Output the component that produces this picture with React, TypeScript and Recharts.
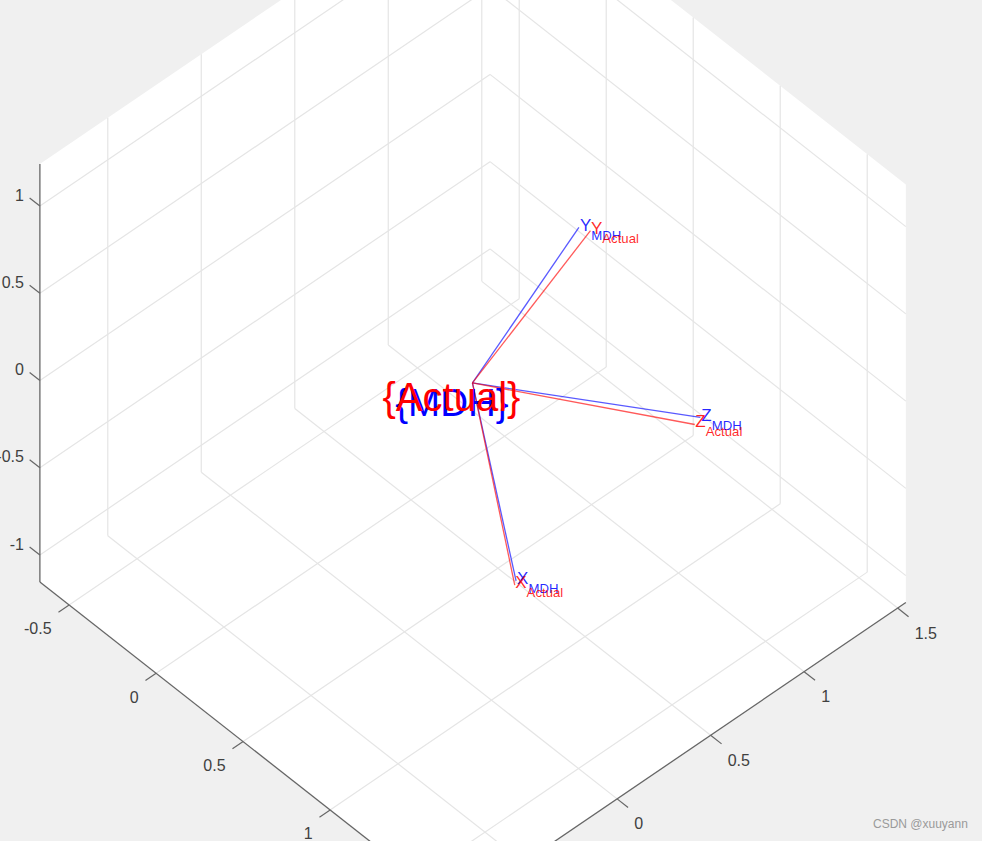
import { Scatter, ScatterChart, XAxis, YAxis } from "recharts";

type Vec3 = [number, number, number];

const WIDTH = 982;
const HEIGHT = 841;
const FONT = "'Liberation Sans', Arial, sans-serif";

// axis limits and ticks
const aLim = [-0.668, 1.722];
const bLim = [-0.863, 1.544];
const zLim = [-1.154, 1.241];
const aTicks = [-0.5, 0, 0.5, 1, 1.5];
const bTicks = [-0.5, 0, 0.5, 1, 1.5];
const zTicks = [-1, -0.5, 0, 0.5, 1];
const aTickLabels = ["-0.5", "0", "0.5", "1"];
const bTickLabels = ["0", "0.5", "1", "1.5"];
const zTickLabels = ["-1", "-0.5", "0", "0.5", "1"];

// frame origin and axis end points
const frameOrigin: Vec3 = [0.495, 0.368, 0];
const axisNames = ["X", "Y", "Z"];
const mdhEnds: Vec3[] = [
  [0.721, 0.391, -0.974],
  [0.116, 1.29, -0.077],
  [1.39, 0.754, 0.222],
];
const actualEnds: Vec3[] = [
  [0.736, 0.37, -0.971],
  [0.163, 1.308, -0.0725],
  [1.4, 0.715, 0.218],
];

// fixed view of the 3D box onto the picture (orthographic)
const project = ([a, b, z]: Vec3) => ({
  x: 317.5 + 174 * a + 187 * b,
  y: 362.1 + 136.7 * a - 127.2 * b - 174.5 * z,
});

const NoPoint = () => null;

const Seg = (from: Vec3, to: Vec3, stroke: string, key: string, width = 1, opacity = 1) => (
  <Scatter
    key={key}
    data={[project(from), project(to)]}
    line={{ stroke, strokeWidth: width, strokeOpacity: opacity }}
    shape={NoPoint}
    isAnimationActive={false}
  />
);

const Label = (
  at: Vec3,
  key: string,
  dx: number,
  dy: number,
  render: (x: number, y: number) => React.ReactElement,
) => (
  <Scatter
    key={key}
    data={[project(at)]}
    shape={(p: any) => render(p.cx + dx, p.cy + dy)}
    isAnimationActive={false}
  />
);

const tickText = (s: string, anchor: string) => (x: number, y: number) => (
  <text
    x={x}
    y={y}
    textAnchor={anchor}
    dominantBaseline="central"
    fontFamily={FONT}
    fontSize={16}
    fill="#404040"
  >
    {s}
  </text>
);

const axisLabel = (name: string, sub: string, color: string) => (x: number, y: number) => (
  <text x={x} y={y} fontFamily={FONT} fill={color} fillOpacity={0.85}>
    <tspan fontSize={17}>{name}</tspan>
    <tspan fontSize={13.2} dy={9}>
      {sub}
    </tspan>
  </text>
);

const frameText = (s: string, color: string, size: number) => (x: number, y: number) => (
  <text x={x} y={y} textAnchor="middle" fontFamily={FONT} fontSize={size} fill={color}>
    {s}
  </text>
);

export default function App() {
  const [a0, a1] = aLim;
  const [b0, b1] = bLim;
  const [z0, z1] = zLim;
  const grid = "#e5e5e5";
  const axis = "#666666";

  const wall = [
    [a0, b0, z0],
    [a0, b0, z1],
    [a0, b1, z1],
    [a1, b1, z1],
    [a1, b1, z0],
    [a1, b0, z0],
  ].map((p) => project(p as Vec3));

  return (
    <div
      style={{
        position: "absolute",
        left: 0,
        top: 0,
        width: WIDTH,
        height: HEIGHT,
        background: "#f0f0f0",
        overflow: "hidden",
      }}
    >
      <ScatterChart width={WIDTH} height={HEIGHT} margin={{ top: 0, right: 0, bottom: 0, left: 0 }}>
        <XAxis type="number" dataKey="x" domain={[0, WIDTH]} allowDataOverflow hide />
        <YAxis type="number" dataKey="y" domain={[0, HEIGHT]} allowDataOverflow reversed hide />

        {/* white box outline */}
        <Scatter
          data={wall}
          shape={NoPoint}
          isAnimationActive={false}
          line={(props: any) => (
            <polygon
              points={props.points.map((p: any) => `${p.x ?? p.cx},${p.y ?? p.cy}`).join(" ")}
              fill="#ffffff"
              stroke="none"
            />
          )}
        />

        {/* grid */}
        {aTicks.map((a) => Seg([a, b0, z0], [a, b1, z0], grid, `fa${a}`, 1.2))}
        {bTicks.map((b) => Seg([a0, b, z0], [a1, b, z0], grid, `fb${b}`, 1.2))}
        {aTicks.map((a) => Seg([a, b1, z0], [a, b1, z1], grid, `wa${a}`, 1.2))}
        {bTicks.map((b) => Seg([a0, b, z0], [a0, b, z1], grid, `wb${b}`, 1.2))}
        {zTicks.map((z) => Seg([a0, b0, z], [a0, b1, z], grid, `zl${z}`, 1.2))}
        {zTicks.map((z) => Seg([a0, b1, z], [a1, b1, z], grid, `zr${z}`, 1.2))}

        {/* axes and ticks */}
        {Seg([a0, b0, z0], [a0, b0, z1], axis, "axisZ", 1.3)}
        {Seg([a0, b0, z0], [a1, b0, z0], axis, "axisA", 1.3)}
        {Seg([a1, b0, z0], [a1, b1, z0], axis, "axisB", 1.3)}
        {aTicks.map((a) => Seg([a, b0, z0], [a, b0 - 0.057, z0], axis, `ta${a}`, 1.2))}
        {bTicks.map((b) => Seg([a1, b, z0], [a1 + 0.063, b, z0], axis, `tb${b}`, 1.2))}
        {zTicks.map((z) => Seg([a0, b0, z], [a0 - 0.059, b0, z], axis, `tz${z}`, 1.2))}

        {aTickLabels.map((s) => Label([Number(s), b0, z0], `la${s}`, -17.5, 24, tickText(s, "end")))}
        {bTickLabels.map((s) => Label([a1, Number(s), z0], `lb${s}`, 17, 25, tickText(s, "start")))}
        {zTickLabels.map((s) => Label([a0, b0, Number(s)], `lz${s}`, -16, -11, tickText(s, "end")))}

        {/* frames */}
        {mdhEnds.map((e, i) => Seg(frameOrigin, e, "#0000ff", `mdh${i}`, 1.3, 0.65))}
        {actualEnds.map((e, i) => Seg(frameOrigin, e, "#ff0000", `act${i}`, 1.3, 0.65))}
        {mdhEnds.map((e, i) => Label(e, `mt${i}`, 1, 3.5, axisLabel(axisNames[i], "MDH", "#0000ff")))}
        {actualEnds.map((e, i) => Label(e, `at${i}`, 0.5, 3, axisLabel(axisNames[i], "Actual", "#ff0000")))}
        {Label(frameOrigin, "bigMdh", -20.5, 33, frameText("{MDH}", "#0000ff", 38.5))}
        {Label(frameOrigin, "bigActual", -21, 28, frameText("{Actual}", "#ff0000", 40))}
      </ScatterChart>
      <div
        style={{
          position: "absolute",
          left: 873,
          top: 817,
          fontFamily: FONT,
          fontSize: 12,
          color: "#9a9a9a",
          lineHeight: "15px",
          whiteSpace: "nowrap",
        }}
      >
        CSDN @xuuyann
      </div>
    </div>
  );
}
